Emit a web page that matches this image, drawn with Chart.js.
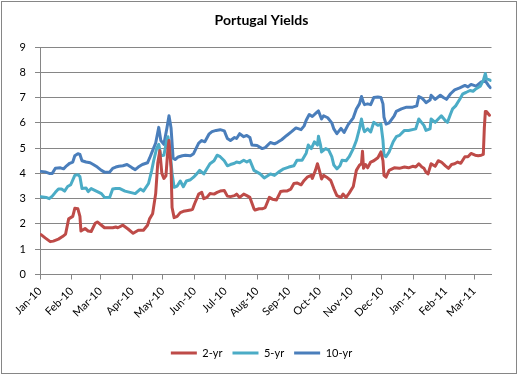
<!DOCTYPE html>
<html><head><meta charset="utf-8">
<script src="https://cdn.jsdelivr.net/npm/chart.js@4/dist/chart.umd.min.js"></script>
<style>html,body{margin:0;padding:0;background:#fff}</style>
</head><body>
<canvas id="c" width="519" height="376" style="display:block;width:519px;height:376px"></canvas>
<script>
// Month ticks (day offsets from 1 Jan 2010) and labels
const monthDays = [0,31,59,90,120,151,181,212,243,273,304,334,365,396,424];
const monthLabels = ['Jan-10','Feb-10','Mar-10','Apr-10','May-10','Jun-10','Jul-10','Aug-10','Sep-10','Oct-10','Nov-10','Dec-10','Jan-11','Feb-11','Mar-11'];
const seriesNames = ['2-yr','5-yr','10-yr'];

// 2-yr
const days2 = [1,5,10,13,18,22,25,28,32,34,37,39,40,44,47,50,54,56,60,63,68,71,74,76,81,86,91,96,101,105,107,110,113,115,117,119,121,123,125,126,128,129,131,134,137,140,143,147,149,151,155,158,160,163,166,170,173,176,180,183,186,190,192,195,199,202,205,209,210,214,217,220,224,227,231,235,238,241,245,248,251,255,258,261,265,266,269,271,273,275,277,280,284,287,290,294,296,299,302,306,309,312,314,315,316,318,320,323,326,330,333,335,336,338,341,346,351,356,360,364,367,370,373,375,377,379,382,386,389,392,396,399,402,405,408,411,415,418,421,425,428,431,433,434,435,436,439];
const yield2 = [1.58,1.45,1.3,1.32,1.4,1.5,1.6,2.2,2.3,2.62,2.6,2.3,1.72,1.82,1.72,1.7,2.03,2.08,1.95,1.85,1.85,1.85,1.88,1.85,1.95,1.8,1.63,1.75,1.75,1.95,2.2,2.4,3.2,4.4,4.9,4.0,3.8,3.9,5.0,5.3,4.2,2.65,2.25,2.3,2.45,2.5,2.52,2.55,2.58,2.8,3.18,3.25,3.0,3.05,3.2,3.18,3.25,3.3,3.32,3.1,3.08,3.12,3.18,3.05,3.18,3.12,3.05,2.6,2.55,2.6,2.6,2.65,3.05,2.98,2.95,3.28,3.3,3.3,3.38,3.6,3.62,3.55,3.72,3.85,3.92,3.8,4.12,4.38,4.1,3.78,3.92,3.85,3.72,3.4,3.12,3.05,3.18,3.05,3.22,3.48,4.12,4.32,4.38,4.88,4.2,4.35,4.22,4.45,4.5,4.62,4.85,4.5,3.92,3.85,4.12,4.22,4.2,4.25,4.22,4.28,4.25,4.38,4.25,4.2,4.05,3.98,4.38,4.28,4.5,4.45,4.3,4.2,4.35,4.38,4.45,4.4,4.66,4.66,4.79,4.72,4.7,4.72,4.75,5.8,6.45,6.45,6.3];

// 5-yr
const days5 = [1,6,9,12,15,18,21,24,27,30,34,37,39,41,45,47,50,55,60,63,68,71,74,78,83,88,93,98,101,106,109,111,114,116,118,121,124,125,127,129,131,134,137,140,143,147,150,153,156,160,163,166,170,173,176,180,183,186,190,192,195,199,202,205,209,212,215,219,222,225,229,233,238,243,248,251,256,260,262,265,268,271,272,274,275,279,282,285,287,290,293,295,299,302,306,309,312,314,316,317,320,323,326,330,333,335,336,338,341,345,348,351,356,360,367,370,373,375,377,381,382,386,389,392,396,398,401,403,406,410,413,416,420,423,426,430,433,435,436,440];
const yield5 = [3.08,3.05,3.0,3.1,3.25,3.38,3.38,3.3,3.48,3.55,3.92,3.95,3.87,3.4,3.42,3.28,3.4,3.3,3.2,3.05,3.05,3.38,3.4,3.4,3.3,3.25,3.2,3.38,3.3,3.6,4.1,4.5,5.0,5.15,4.7,4.72,5.35,5.45,4.9,4.0,3.45,3.5,3.7,3.47,3.7,3.75,3.85,3.98,4.12,3.98,4.18,4.38,4.5,4.72,4.66,4.5,4.3,4.35,4.4,4.45,4.42,4.52,4.45,4.52,4.12,4.05,3.98,3.82,3.9,3.98,3.92,4.05,4.18,4.25,4.3,4.52,4.52,4.8,5.12,4.98,5.25,5.12,5.47,5.12,4.85,4.98,4.92,4.66,4.33,4.18,4.3,4.52,4.5,4.66,4.98,5.3,5.76,6.15,5.76,5.65,5.76,5.64,6.02,5.9,5.95,5.3,4.72,4.66,4.85,5.25,5.45,5.5,5.7,5.7,5.76,6.15,6.0,5.9,5.7,5.76,6.15,6.02,6.15,6.28,6.08,6.02,6.35,6.55,6.67,6.93,7.15,7.2,7.28,7.25,7.35,7.45,7.68,7.95,7.75,7.68];

// 10-yr
const days10 = [1,5,9,12,15,20,23,26,29,32,34,37,39,41,45,49,52,56,60,63,68,71,74,77,81,85,90,93,96,100,105,107,110,113,116,118,121,124,126,128,130,132,135,139,142,147,150,152,155,158,161,165,168,172,176,180,183,186,190,192,195,199,202,205,207,212,217,220,225,229,232,236,241,246,250,255,258,260,263,266,270,272,275,277,281,285,287,290,294,297,301,306,309,312,314,316,317,320,323,326,330,333,335,336,338,341,346,348,353,358,364,368,370,373,375,377,381,382,386,391,394,397,401,405,410,415,418,421,426,431,435,438,440];
const yield10 = [4.08,4.06,4.0,4.0,4.2,4.22,4.18,4.3,4.4,4.45,4.7,4.78,4.75,4.5,4.45,4.42,4.35,4.25,4.12,4.05,4.05,4.2,4.25,4.28,4.3,4.35,4.22,4.15,4.25,4.35,4.42,4.6,4.9,5.2,5.82,5.3,5.15,5.8,6.28,5.8,4.6,4.55,4.65,4.7,4.72,4.7,4.78,4.95,5.2,5.3,5.25,5.55,5.65,5.7,5.73,5.68,5.38,5.3,5.42,5.38,5.57,5.45,5.5,5.42,5.12,5.1,4.98,5.02,5.22,5.17,5.23,5.33,5.5,5.66,5.8,5.73,5.88,6.1,6.33,6.25,6.4,6.47,6.15,6.28,6.2,6.0,5.76,5.57,5.78,5.62,5.93,6.2,6.55,6.75,7.04,6.8,6.72,6.75,6.72,7.0,7.02,7.0,6.75,6.22,5.95,6.0,6.28,6.45,6.55,6.62,6.62,6.67,7.04,6.98,6.9,6.8,6.9,7.09,6.93,7.09,7.0,6.93,7.15,7.3,7.38,7.48,7.42,7.52,7.45,7.62,7.66,7.48,7.39];

const yTicks = [0,1,2,3,4,5,6,7,8,9];

function pts(d, v) {
  if (d.length !== v.length) throw new Error('length mismatch ' + d.length + ' vs ' + v.length);
  return d.map((x, i) => ({x: x, y: v[i]}));
}

const frame = {
  id: 'frame',
  beforeDraw(chart) {
    const ctx = chart.ctx;
    ctx.save();
    ctx.fillStyle = '#ffffff';
    ctx.fillRect(0, 0, chart.width, chart.height);
    ctx.strokeStyle = '#868686';
    ctx.lineWidth = 1;
    ctx.strokeRect(1.5, 1.5, 515, 372);
    ctx.restore();
  }
};

const FONT = 'Lato, "Open Sans", sans-serif';
Chart.defaults.font.family = FONT;
Chart.defaults.color = '#000';

const common = {pointRadius: 0, borderWidth: 3, tension: 0, fill: false, borderJoinStyle: 'round', borderCapStyle: 'round'};

new Chart(document.getElementById('c'), {
  type: 'line',
  data: {
    datasets: [
      Object.assign({label: seriesNames[0], data: pts(days2, yield2), borderColor: '#BE4B48', backgroundColor: '#BE4B48'}, common),
      Object.assign({label: seriesNames[1], data: pts(days5, yield5), borderColor: '#4BACC6', backgroundColor: '#4BACC6'}, common),
      Object.assign({label: seriesNames[2], data: pts(days10, yield10), borderColor: '#4A7EBB', backgroundColor: '#4A7EBB'}, common)
    ]
  },
  options: {
    responsive: false,
    animation: false,
    devicePixelRatio: 1,
    layout: {padding: {left: 4, right: 0, top: 0, bottom: 7.5}},
    plugins: {
      title: {display: true, text: 'Portugal Yields', color: '#000', font: {size: 14, weight: 'bold'}, padding: {top: 12, bottom: 18.2}},
      legend: {
        position: 'bottom',
        labels: {usePointStyle: true, pointStyle: 'line', pointStyleWidth: 26, color: '#000', font: {size: 11}, padding: 10}
      },
      tooltip: {enabled: false}
    },
    scales: {
      x: {
        type: 'linear', min: 0, max: 441,
        afterBuildTicks: s => { s.ticks = monthDays.map(v => ({value: v})); },
        afterFit: s => { s.height = 63; },
        ticks: {autoSkip: false, maxRotation: 45, minRotation: 45, padding: 5, font: {size: 11}, color: '#000',
          callback: (v, i) => monthLabels[i]},
        grid: {drawOnChartArea: false, drawTicks: true, tickLength: 5, color: '#868686'},
        border: {color: '#868686', width: 1}
      },
      y: {
        min: 0, max: 9,
        afterBuildTicks: s => { s.ticks = yTicks.map(v => ({value: v})); },
        afterFit: s => { s.width = 36; },
        ticks: {padding: 9, font: {size: 11}, color: '#000', callback: v => String(v)},
        grid: {color: '#868686', tickLength: 5, drawTicks: true},
        border: {color: '#868686', width: 1}
      },
      yR: {
        type: 'linear', position: 'right', display: true,
        afterFit: s => { s.width = 27.5; },
        ticks: {display: false},
        grid: {display: false, drawTicks: false},
        border: {display: false}
      }
    }
  },
  plugins: [frame]
});
</script>
</body></html>
